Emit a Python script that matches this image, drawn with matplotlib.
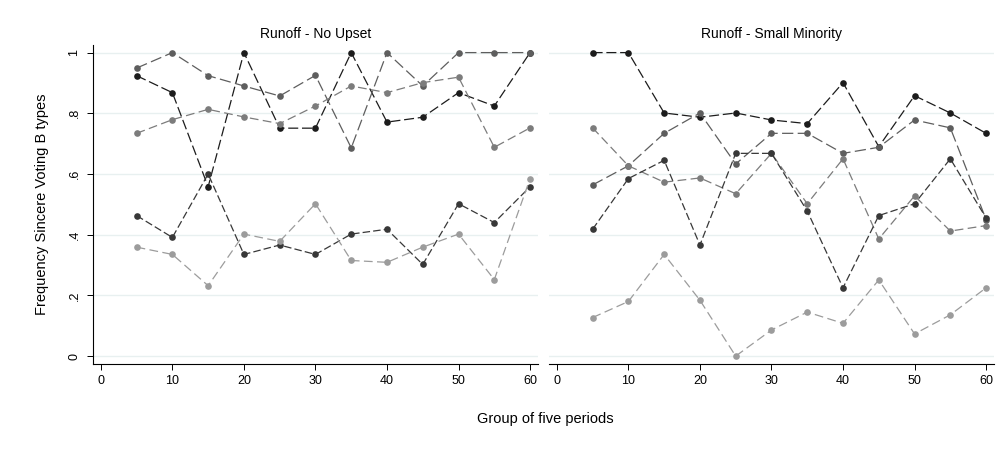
import matplotlib
matplotlib.use("Agg")
import matplotlib.pyplot as plt

plt.rcParams["font.family"] = ["Liberation Sans", "DejaVu Sans"]

periods = [5, 10, 15, 20, 25, 30, 35, 40, 45, 50, 55, 60]

panel_titles = ["Runoff - No Upset", "Runoff - Small Minority"]

# Left panel: Runoff - No Upset
no_upset_a = [0.924, 0.868, 0.558, 1.0, 0.751, 0.751, 1.0, 0.771, 0.787, 0.868, 0.824, 1.0]
no_upset_b = [0.949, 1.0, 0.924, 0.890, 0.857, 0.925, 0.686, 1.0, 0.890, 1.0, 1.0, 1.0]
no_upset_c = [0.734, 0.779, 0.813, 0.788, 0.766, 0.824, 0.890, 0.868, 0.901, 0.919, 0.688, 0.752]
no_upset_d = [0.463, 0.391, 0.600, 0.335, 0.366, 0.335, 0.402, 0.418, 0.302, 0.502, 0.440, 0.558]
no_upset_e = [0.359, 0.335, 0.232, 0.402, 0.378, 0.502, 0.315, 0.309, 0.359, 0.402, 0.252, 0.585]

# Right panel: Runoff - Small Minority
minority_a = [1.0, 1.0, 0.801, 0.787, 0.801, 0.778, 0.766, 0.901, 0.690, 0.858, 0.801, 0.734]
minority_b = [0.564, 0.627, 0.734, 0.801, 0.633, 0.734, 0.734, 0.668, 0.688, 0.778, 0.752, 0.450]
minority_c = [0.752, 0.627, 0.573, 0.587, 0.535, 0.668, 0.502, 0.650, 0.386, 0.528, 0.412, 0.430]
minority_d = [0.418, 0.585, 0.645, 0.366, 0.668, 0.668, 0.478, 0.225, 0.463, 0.502, 0.650, 0.455]
minority_e = [0.127, 0.180, 0.335, 0.184, 0.000, 0.086, 0.145, 0.108, 0.251, 0.073, 0.136, 0.225]

panels = [
    [no_upset_a, no_upset_b, no_upset_c, no_upset_d, no_upset_e],
    [minority_a, minority_b, minority_c, minority_d, minority_e],
]

yticks = [0, 0.2, 0.4, 0.6, 0.8, 1.0]
ytick_labels = ["0", ".2", ".4", ".6", ".8", "1"]
xticks = [0, 10, 20, 30, 40, 50, 60]

# series styles (colour, dash pattern)
styles = [
    ("#1c1c1c", (0, (8, 3))),
    ("#5e5e5e", (0, (9, 3.5))),
    ("#7c7c7c", (0, (7, 3.5))),
    ("#383838", (0, (6, 2.5))),
    ("#9c9c9c", (0, (7, 3.5))),
]

fig = plt.figure(figsize=(10.04, 4.59), dpi=100)
axes = [
    fig.add_axes([0.0926, 0.207, 0.4432, 0.6956]),
    fig.add_axes([0.5468, 0.207, 0.4432, 0.6956]),
]

for i, (ax, series) in enumerate(zip(axes, panels)):
    for yv in yticks:
        ax.axhline(yv, color="#e8f0f0", linewidth=1.0, zorder=0)
    for vals, (col, dash) in zip(series, styles):
        ax.plot(periods, vals, color=col, linestyle=dash, linewidth=0.9,
                marker="o", markersize=4.8, markeredgewidth=0, zorder=3)
    ax.set_xlim(-1.1, 61.1)
    ax.set_ylim(-0.026, 1.026)
    ax.set_xticks(xticks)
    ax.set_xticklabels([str(t) for t in xticks], fontsize=9)
    ax.set_title(panel_titles[i], fontsize=10, pad=5)
    for side in ["top", "right"]:
        ax.spines[side].set_visible(False)
    ax.spines["bottom"].set_linewidth(0.8)
    ax.tick_params(axis="x", direction="out", length=4, width=0.7, pad=4)
    if i == 0:
        ax.set_yticks(yticks)
        ax.set_yticklabels(ytick_labels, fontsize=9, rotation=90, va="center")
        ax.tick_params(axis="y", direction="out", length=4, width=0.7, pad=5)
        ax.spines["left"].set_linewidth(0.8)
        ax.set_ylabel("Frequency Sincere Voting B types", fontsize=10.5, labelpad=14)
    else:
        ax.spines["left"].set_visible(False)
        ax.set_yticks([])

fig.text(0.543, 0.088, "Group of five periods", ha="center", va="center", fontsize=10.5)

fig.savefig("out.png", dpi=100, facecolor="white")
